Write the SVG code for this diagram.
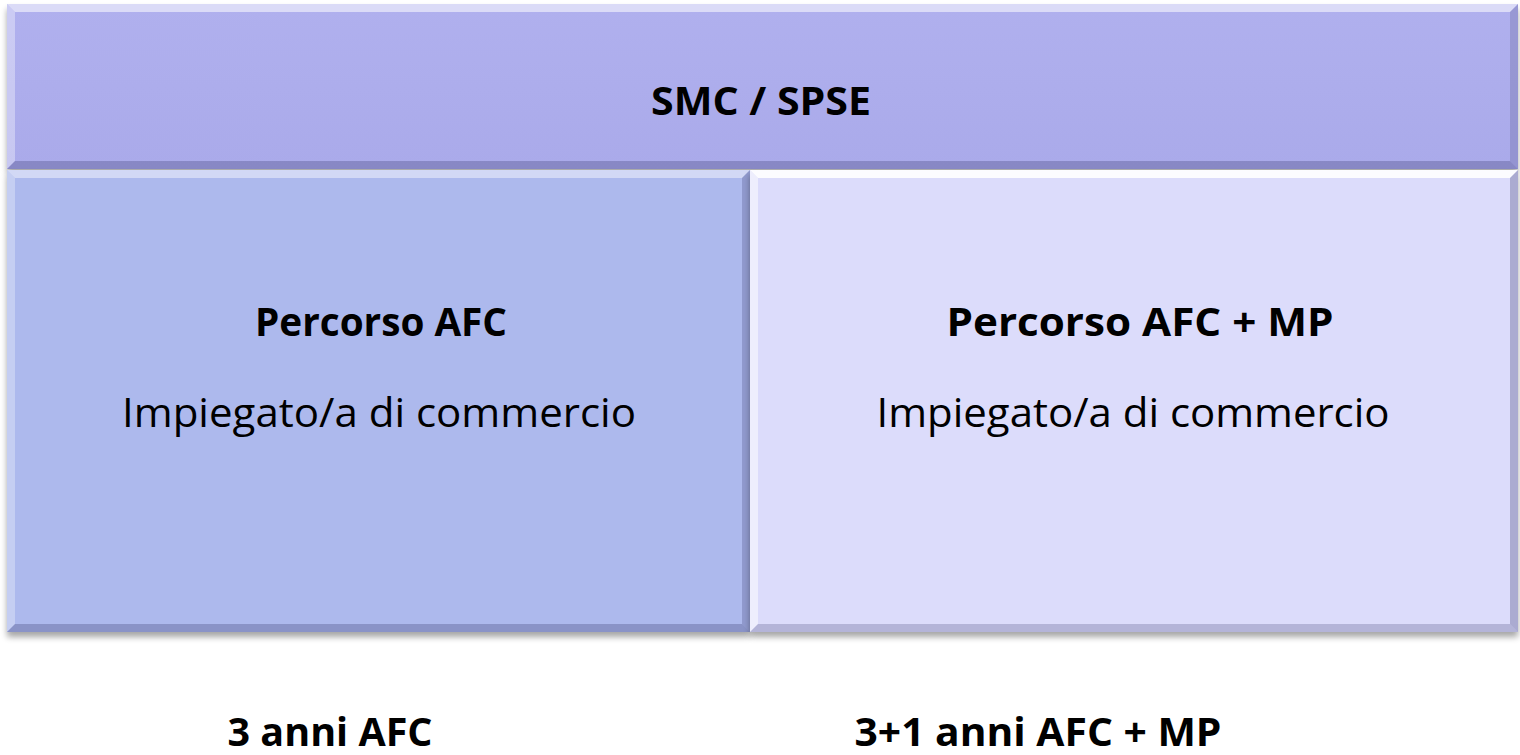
<svg xmlns="http://www.w3.org/2000/svg" width="1520" height="755" viewBox="0 0 1520 755">
<defs>
<filter id="sh" x="-5%" y="-5%" width="110%" height="120%">
<feGaussianBlur in="SourceAlpha" stdDeviation="3"/>
<feOffset dx="0" dy="5" result="b"/>
<feComponentTransfer><feFuncA type="linear" slope="0.35"/></feComponentTransfer>
<feMerge><feMergeNode/><feMergeNode in="SourceGraphic"/></feMerge>
</filter>
<linearGradient id="topg" x1="0" y1="0" x2="0" y2="1">
<stop offset="0" stop-color="#b0b0ee"/><stop offset="1" stop-color="#aaaaea"/>
</linearGradient>
</defs>
<style>
.b{font-family:"Open Sans","Liberation Sans",sans-serif;font-weight:bold;font-size:40px;fill:#000;text-anchor:middle}
.n{font-family:"Open Sans","Liberation Sans",sans-serif;font-size:41px;fill:#000;text-anchor:middle}
.hl{fill:#ffffff}
.dk{fill:#3a3a70}
</style>
<g id="top">
<rect x="7" y="4" width="1511" height="165" fill="url(#topg)" filter="url(#sh)"/>
<polygon points="7,4 1518,4 1510,12 15,12" class="hl" opacity="0.55"/>
<polygon points="7,4 15,12 15,161 7,169" class="hl" opacity="0.35"/>
<polygon points="7,169 15,161 1510,161 1518,169" class="dk" opacity="0.3"/>
<polygon points="1518,4 1518,169 1510,161 1510,12" class="dk" opacity="0.2"/>
<text class="b" x="761" y="115" textLength="220" lengthAdjust="spacingAndGlyphs">SMC / SPSE</text>
</g>
<g id="left">
<rect x="7" y="170" width="743" height="462" fill="#adb9ed" filter="url(#sh)"/>
<polygon points="7,170 750,170 742,178 15,178" class="hl" opacity="0.45"/>
<polygon points="7,170 15,178 15,624 7,632" class="hl" opacity="0.3"/>
<polygon points="7,632 15,624 742,624 750,632" class="dk" opacity="0.3"/>
<polygon points="750,170 750,632 742,624 742,178" class="dk" opacity="0.25"/>
<text class="b" x="381" y="336" textLength="252" lengthAdjust="spacingAndGlyphs">Percorso AFC</text>
<text class="n" x="379" y="427" textLength="514" lengthAdjust="spacingAndGlyphs">Impiegato/a di commercio</text>
</g>
<g id="right">
<rect x="750" y="170" width="768" height="462" fill="#dcdcfb" filter="url(#sh)"/>
<polygon points="750,170 1518,170 1510,178 758,178" class="hl" opacity="0.9"/>
<polygon points="750,170 758,178 758,624 750,632" class="hl" opacity="0.5"/>
<polygon points="750,632 758,624 1510,624 1518,632" class="dk" opacity="0.25"/>
<polygon points="1518,170 1518,632 1510,624 1510,178" class="dk" opacity="0.3"/>
<text class="b" x="1140" y="336" textLength="387" lengthAdjust="spacingAndGlyphs">Percorso AFC + MP</text>
<text class="n" x="1133" y="427" textLength="513" lengthAdjust="spacingAndGlyphs">Impiegato/a di commercio</text>
</g>
<g id="labels">
<text class="b" x="330" y="746" textLength="205" lengthAdjust="spacingAndGlyphs">3 anni AFC</text>
<text class="b" x="1038" y="746" textLength="367" lengthAdjust="spacingAndGlyphs">3+1 anni AFC + MP</text>
</g>
<g id="connectors"/>
</svg>
